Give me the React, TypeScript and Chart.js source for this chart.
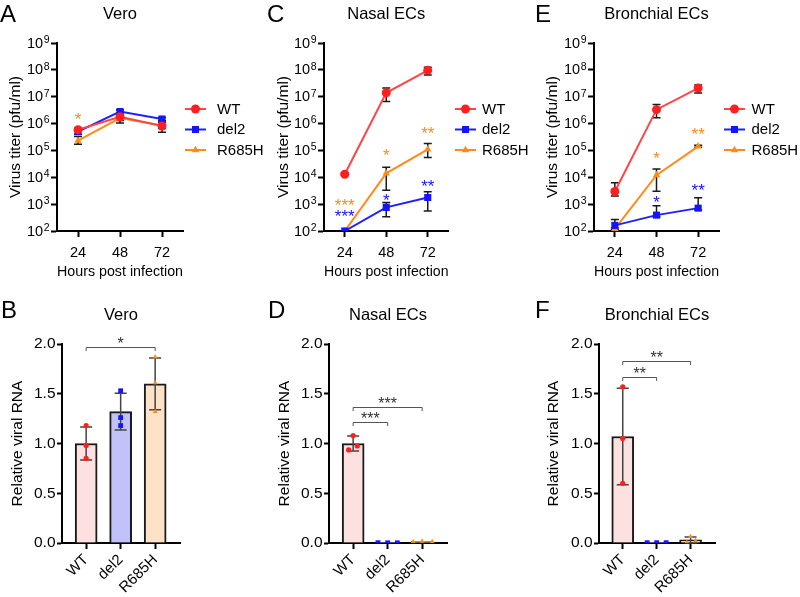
import React, { useEffect, useRef } from 'react';
import { Chart, registerables } from 'chart.js';

Chart.register(...registerables);

const FONT = "'Liberation Sans', Arial, Helvetica, sans-serif";
Chart.defaults.font.family = FONT;
Chart.defaults.color = '#000';

// ---------------- data ----------------
const hours = ['24', '48', '72'];
const strains = ['WT', 'del2', 'R685H'];
const titerTicks = [1e2, 1e3, 1e4, 1e5, 1e6, 1e7, 1e8, 1e9];
const rnaTicks = [0, 0.5, 1.0, 1.5, 2.0];

// A: Vero titers (pfu/ml)
const veroWT = [5.9e5, 1.8e6, 8.1e5];
const veroWTLo = [5.2e5, 1.3e6, 4.8e5];
const veroWTHi = [6.6e5, 2.3e6, 1.26e6];
const veroDel2 = [5.0e5, 2.8e6, 1.48e6];
const veroDel2Lo = [4.0e5, 2.4e6, 1.3e6];
const veroDel2Hi = [6.0e5, 3.2e6, 1.7e6];
const veroR685H = [2.3e5, 1.6e6, 8.5e5];
const veroR685HLo = [1.7e5, 1.05e6, 6.5e5];
const veroR685HHi = [3.3e5, 2.3e6, 1.1e6];
const veroStars = [[0, 1.86e6, '*', 'R685H']];

// C: Nasal ECs titers
const nasalWT = [1.3e4, 1.4e7, 9.6e7];
const nasalWTLo = [1.2e4, 6.6e6, 6.5e7];
const nasalWTHi = [1.4e4, 2.1e7, 1.24e8];
const nasalDel2 = [100, 760, 1780];
const nasalDel2Lo = [100, 340, 550];
const nasalDel2Hi = [100, 1160, 2900];
const nasalR685H = [100, 1.4e4, 1.1e5];
const nasalR685HLo = [100, 3.3e3, 5.4e4];
const nasalR685HHi = [100, 2.35e4, 1.83e5];
const nasalStars = [
  [0, 1.12e3, '***', 'R685H'],
  [0, 427, '***', 'del2'],
  [1, 8.4e4, '*', 'R685H'],
  [1, 1.78e3, '*', 'del2'],
  [2, 5.6e5, '**', 'R685H'],
  [2, 5.6e3, '**', 'del2'],
];

// E: Bronchial ECs titers
const bronWT = [2.95e3, 3.3e6, 2.1e7];
const bronWTLo = [2.0e3, 1.66e6, 1.38e7];
const bronWTHi = [6.3e3, 5.1e6, 2.74e7];
const bronDel2 = [162, 390, 710];
const bronDel2Lo = [110, 330, 600];
const bronDel2Hi = [270, 870, 1720];
const bronR685H = [120, 1.2e4, 1.42e5];
const bronR685HLo = [110, 3.0e3, 1.3e5];
const bronR685HHi = [130, 2.05e4, 1.55e5];
const bronStars = [
  [1, 6.3e4, '*', 'R685H'],
  [1, 1.45e3, '*', 'del2'],
  [2, 4.9e5, '**', 'R685H'],
  [2, 4.3e3, '**', 'del2'],
];

// B: Vero relative viral RNA
const veroRnaMean = [1.0, 1.32, 1.6];
const veroRnaSD = [0.165, 0.185, 0.26];
const veroRnaWT = [1.18, 0.98, 0.85];
const veroRnaDel2 = [1.53, 1.26, 1.18];
const veroRnaR685H = [1.87, 1.61, 1.32];
const veroJitter = [[0, 0, 0], [0, 0, 0], [0, 0, 0]];
const veroBrackets = [[0, 2, 1.97, '*']];

// D: Nasal ECs relative viral RNA
const nasalRnaMean = [1.0, 0.002, 0.015];
const nasalRnaSD = [0.075, 0.001, 0.004];
const nasalRnaWT = [1.08, 0.935, 0.975];
const nasalRnaDel2 = [0.003, 0.002, 0.002];
const nasalRnaR685H = [0.012, 0.018, 0.014];
const nasalJitter = [[0, -0.13, 0.12], [-0.28, 0, 0.28], [-0.26, 0, 0.29]];
const nasalBrackets = [[0, 1, 1.22, '***'], [0, 2, 1.37, '***']];

// F: Bronchial ECs relative viral RNA
const bronRnaMean = [1.07, 0.003, 0.031];
const bronRnaSD = [0.485, 0.001, 0.03];
const bronRnaWT = [1.57, 1.05, 0.6];
const bronRnaDel2 = [0.003, 0.003, 0.003];
const bronRnaR685H = [0.007, 0.064, 0.023];
const bronJitter = [[0, 0, 0], [-0.28, 0, 0.28], [-0.11, 0, 0.15]];
const bronBrackets = [[0, 1, 1.665, '**'], [0, 2, 1.826, '**']];

// ---------------- styles ----------------
const COLORS: any = { WT: '#ff1f1f', del2: '#1414ff', R685H: '#ff8a14' };
const LINE_COLORS: any = { WT: '#ff4545', del2: '#1f1fff', R685H: '#ff8c1a' };
const BAR_FILL: any = { WT: '#fde0e0', del2: '#c2c2fb', R685H: '#fde2c7' };
const POINT_STYLE: any = { WT: 'circle', del2: 'rect', R685H: 'triangle' };
const TOP_R: any = { WT: 4.5, del2: 5, R685H: 4.3 };
const BOT_R: any = { WT: 2.6, del2: 3.4, R685H: 2.9 };

function drawMarker(ctx: CanvasRenderingContext2D, style: string, x: number, y: number, r: number, color: string) {
  ctx.fillStyle = color;
  ctx.beginPath();
  if (style === 'circle') {
    ctx.arc(x, y, r, 0, Math.PI * 2);
  } else if (style === 'rect') {
    const s = r * Math.SQRT1_2;
    ctx.rect(x - s, y - s, 2 * s, 2 * s);
  } else {
    ctx.moveTo(x, y - r);
    ctx.lineTo(x + r * Math.sin((2 * Math.PI) / 3), y - r * Math.cos((2 * Math.PI) / 3));
    ctx.lineTo(x + r * Math.sin((4 * Math.PI) / 3), y - r * Math.cos((4 * Math.PI) / 3));
    ctx.closePath();
  }
  ctx.fill();
}

const axisGrid = {
  display: true,
  drawOnChartArea: false,
  drawTicks: true,
  tickLength: 6,
  tickWidth: 2,
  tickColor: '#000',
  offset: false,
};
const axisBorder = { display: true, color: '#000', width: 2 };

function letterPlugin(letter: string, x: number, y: number) {
  return {
    id: 'panelLetter',
    afterDraw(chart: any) {
      const ctx = chart.ctx;
      ctx.save();
      ctx.font = `24px ${FONT}`;
      ctx.fillStyle = '#000';
      ctx.textAlign = 'left';
      ctx.textBaseline = 'alphabetic';
      ctx.fillText(letter, x, y);
      ctx.restore();
    },
  };
}

// ---------------- titer (line) panels ----------------
function titerConfig(spec: any) {
  const series = [
    { key: 'WT', values: spec.wt, lo: spec.wtLo, hi: spec.wtHi },
    { key: 'del2', values: spec.del2, lo: spec.del2Lo, hi: spec.del2Hi },
    { key: 'R685H', values: spec.r685h, lo: spec.r685hLo, hi: spec.r685hHi },
  ];

  const errorBars = {
    id: 'titerErrorBars',
    beforeDatasetsDraw(chart: any) {
      const { ctx } = chart;
      const xs = chart.scales.x;
      const ys = chart.scales.y;
      ctx.save();
      ctx.strokeStyle = '#1a1a1a';
      ctx.lineWidth = 1.5;
      series.forEach((s) => {
        s.values.forEach((_v: number, i: number) => {
          const x = xs.getPixelForValue(i);
          const y1 = ys.getPixelForValue(s.lo[i]);
          const y2 = ys.getPixelForValue(s.hi[i]);
          if (Math.abs(y1 - y2) < 1) return;
          ctx.beginPath();
          ctx.moveTo(x, y1);
          ctx.lineTo(x, y2);
          ctx.moveTo(x - 4, y1);
          ctx.lineTo(x + 4, y1);
          ctx.moveTo(x - 4, y2);
          ctx.lineTo(x + 4, y2);
          ctx.stroke();
        });
      });
      ctx.restore();
    },
  };

  const logLabels = {
    id: 'logTickLabels',
    afterDraw(chart: any) {
      const { ctx } = chart;
      const ys = chart.scales.y;
      ctx.save();
      ctx.fillStyle = '#000';
      ctx.textAlign = 'right';
      ctx.textBaseline = 'middle';
      titerTicks.forEach((v) => {
        const y = ys.getPixelForValue(v);
        const exp = String(Math.round(Math.log10(v)));
        const xr = ys.right - 6 - 1.5;
        ctx.font = `10.5px ${FONT}`;
        const ew = ctx.measureText(exp).width;
        ctx.fillText(exp, xr, y - 3);
        ctx.font = `14.5px ${FONT}`;
        ctx.fillText('10', xr - ew - 0.5, y + 0.5);
      });
      ctx.restore();
    },
  };

  const stars = {
    id: 'titerStars',
    afterDraw(chart: any) {
      const { ctx } = chart;
      const xs = chart.scales.x;
      const ys = chart.scales.y;
      ctx.save();
      ctx.font = `17px ${FONT}`;
      ctx.textAlign = 'center';
      ctx.textBaseline = 'middle';
      spec.stars.forEach((st: any) => {
        const [xi, yv, text, key] = st;
        ctx.fillStyle = COLORS[key];
        ctx.fillText(text, xs.getPixelForValue(xi), ys.getPixelForValue(yv) + 17 * 0.22);
      });
      ctx.restore();
    },
  };

  const legend = {
    id: 'sideLegend',
    afterDraw(chart: any) {
      const { ctx } = chart;
      ctx.save();
      series.forEach((s, i) => {
        const y = spec.legendY[i];
        const x0 = spec.legendX;
        ctx.strokeStyle = LINE_COLORS[s.key];
        ctx.lineWidth = 2;
        ctx.beginPath();
        ctx.moveTo(x0, y);
        ctx.lineTo(x0 + 21, y);
        ctx.stroke();
        drawMarker(ctx, POINT_STYLE[s.key], x0 + 10.5, y, TOP_R[s.key], COLORS[s.key]);
        ctx.fillStyle = '#000';
        ctx.font = `15px ${FONT}`;
        ctx.textAlign = 'left';
        ctx.textBaseline = 'middle';
        ctx.fillText(s.key, x0 + spec.legendTextGap, y + 0.5);
      });
      ctx.restore();
    },
  };

  return {
    type: 'line',
    data: {
      labels: hours,
      datasets: series.map((s) => ({
        label: s.key,
        data: s.values,
        borderColor: LINE_COLORS[s.key],
        backgroundColor: COLORS[s.key],
        pointBackgroundColor: COLORS[s.key],
        pointBorderColor: COLORS[s.key],
        pointStyle: POINT_STYLE[s.key],
        pointRadius: TOP_R[s.key],
        pointBorderWidth: 0,
        borderWidth: 2,
        tension: 0,
        fill: false,
      })),
    },
    options: {
      responsive: false,
      animation: false,
      devicePixelRatio: 1,
      events: [],
      layout: { padding: { left: 0, top: 0, right: spec.padRight, bottom: 0 } },
      plugins: {
        legend: { display: false },
        tooltip: { enabled: false },
        title: {
          display: true,
          text: spec.title,
          fullSize: false,
          color: '#000',
          font: { size: 16.5, weight: 'normal' },
          padding: { top: 4.4, bottom: 18.8 },
        },
      },
      scales: {
        x: {
          type: 'category',
          offset: true,
          grid: axisGrid,
          border: axisBorder,
          ticks: { font: { size: 14.5 }, color: '#000', padding: 7, maxRotation: 0, autoSkip: false },
          title: {
            display: true,
            text: 'Hours post infection',
            color: '#000',
            font: { size: 15.5 },
            padding: { top: 0, bottom: 16.5 },
          },
          afterFit: (s: any) => {
            s.height = 67;
          },
        },
        y: {
          type: 'logarithmic',
          min: 1e2,
          max: 1e9,
          afterBuildTicks: (s: any) => {
            s.ticks = titerTicks.map((v) => ({ value: v }));
          },
          grid: axisGrid,
          border: axisBorder,
          ticks: { display: false },
          title: {
            display: true,
            text: 'Virus titer (pfu/ml)',
            color: '#000',
            font: { size: 15.5 },
            padding: { top: spec.yTitlePad, bottom: 0 },
          },
          afterFit: (s: any) => {
            s.width = spec.yAxisWidth;
          },
        },
      },
    },
    plugins: [errorBars, logLabels, stars, legend, letterPlugin(spec.letter, spec.letterX, 22)],
  };
}

// ---------------- RNA (bar) panels ----------------
function rnaConfig(spec: any) {
  const groups = [spec.wtPts, spec.del2Pts, spec.r685hPts];

  const errorBars = {
    id: 'rnaErrorBars',
    afterDatasetDraw(chart: any, args: any) {
      if (args.index !== 0) return;
      const { ctx } = chart;
      const xs = chart.scales.x;
      const ys = chart.scales.y;
      ctx.save();
      ctx.strokeStyle = '#444';
      ctx.lineWidth = 1.5;
      spec.mean.forEach((m: number, i: number) => {
        const x = xs.getPixelForValue(i);
        const yTop = ys.getPixelForValue(m + spec.sd[i]);
        const yBot = ys.getPixelForValue(Math.max(0, m - spec.sd[i]));
        if (Math.abs(yTop - yBot) < 1.5) return;
        ctx.beginPath();
        ctx.moveTo(x, yTop);
        ctx.lineTo(x, yBot);
        ctx.moveTo(x - 6, yTop);
        ctx.lineTo(x + 6, yTop);
        ctx.moveTo(x - 6, yBot);
        ctx.lineTo(x + 6, yBot);
        ctx.stroke();
      });
      ctx.restore();
    },
  };

  const brackets = {
    id: 'sigBrackets',
    afterDraw(chart: any) {
      const { ctx } = chart;
      const xs = chart.scales.x;
      const ys = chart.scales.y;
      ctx.save();
      spec.brackets.forEach((b: any) => {
        const [a, c, yv, text] = b;
        const xa = xs.getPixelForValue(a);
        const xc = xs.getPixelForValue(c);
        const y = Math.round(ys.getPixelForValue(yv)) + 0.5;
        ctx.strokeStyle = '#555';
        ctx.lineWidth = 1;
        ctx.beginPath();
        ctx.moveTo(xa, y + 3.5);
        ctx.lineTo(xa, y);
        ctx.lineTo(xc, y);
        ctx.lineTo(xc, y + 3.5);
        ctx.stroke();
        ctx.fillStyle = '#333';
        ctx.font = `16px ${FONT}`;
        ctx.textAlign = 'center';
        ctx.textBaseline = 'middle';
        ctx.fillText(text, (xa + xc) / 2, y - 6 + 16 * 0.22);
      });
      ctx.restore();
    },
  };

  return {
    type: 'bar',
    data: {
      datasets: [
        {
          type: 'bar',
          label: 'mean',
          data: spec.mean.map((m: number, i: number) => ({ x: i, y: m })),
          backgroundColor: strains.map((k) => BAR_FILL[k]),
          borderColor: '#1a1a1a',
          borderWidth: 2,
          barThickness: 22,
          order: 2,
        },
        ...strains.map((k, g) => ({
          type: 'scatter',
          label: k,
          data: groups[g].map((v: number, i: number) => ({ x: g + spec.jitter[g][i], y: v })),
          pointStyle: POINT_STYLE[k],
          pointRadius: BOT_R[k],
          pointBorderWidth: 0,
          backgroundColor: COLORS[k],
          borderColor: COLORS[k],
          showLine: false,
          order: 1,
        })),
      ],
    },
    options: {
      responsive: false,
      animation: false,
      devicePixelRatio: 1,
      events: [],
      layout: { padding: { left: 0, top: 0, right: spec.padRight, bottom: 0 } },
      plugins: {
        legend: { display: false },
        tooltip: { enabled: false },
        title: {
          display: true,
          text: spec.title,
          fullSize: false,
          color: '#000',
          font: { size: 16.5, weight: 'normal' },
          padding: { top: 7.1, bottom: 19.1 },
        },
      },
      scales: {
        x: {
          type: 'linear',
          min: -0.7,
          max: 2.72,
          offset: false,
          afterBuildTicks: (s: any) => {
            s.ticks = strains.map((_k, i) => ({ value: i }));
          },
          grid: axisGrid,
          border: axisBorder,
          ticks: {
            font: { size: 15 },
            color: '#000',
            padding: 2,
            minRotation: 45,
            maxRotation: 45,
            autoSkip: false,
            callback: (v: number) => strains[Math.round(v)],
          },
          afterFit: (s: any) => {
            s.height = 54;
          },
        },
        y: {
          type: 'linear',
          min: 0,
          max: 2,
          afterBuildTicks: (s: any) => {
            s.ticks = rnaTicks.map((v) => ({ value: v }));
          },
          grid: { ...axisGrid, tickLength: 5 },
          border: axisBorder,
          ticks: { font: { size: 15.5 }, color: '#000', padding: 1.5, callback: (v: number) => v.toFixed(1) },
          title: {
            display: true,
            text: 'Relative viral RNA',
            color: '#000',
            font: { size: 15.5 },
            padding: { top: spec.yTitlePad, bottom: 0 },
          },
          afterFit: (s: any) => {
            s.width = spec.yAxisWidth;
          },
        },
      },
    },
    plugins: [errorBars, brackets, letterPlugin(spec.letter, spec.letterX, 19.7)],
  };
}

// ---------------- components ----------------
function ChartBox({ left, top, width, height, make }: any) {
  const ref = useRef<HTMLCanvasElement>(null);
  useEffect(() => {
    const chart = new Chart(ref.current as HTMLCanvasElement, make());
    return () => chart.destroy();
  }, []);
  return (
    <canvas
      ref={ref}
      width={width}
      height={height}
      style={{ position: 'absolute', left, top, width, height, display: 'block' }}
    />
  );
}

const legendRows = [109, 129.5, 150];

export default function App() {
  return (
    <div style={{ position: 'absolute', left: 0, top: 0, width: 800, height: 597, background: '#fff', overflow: 'hidden' }}>
      <ChartBox
        left={0}
        top={0}
        width={265}
        height={298}
        make={() =>
          titerConfig({
            letter: 'A', letterX: 0, title: 'Vero',
            wt: veroWT, wtLo: veroWTLo, wtHi: veroWTHi,
            del2: veroDel2, del2Lo: veroDel2Lo, del2Hi: veroDel2Hi,
            r685h: veroR685H, r685hLo: veroR685HLo, r685hHi: veroR685HHi,
            stars: veroStars, yAxisWidth: 57, padRight: 82, yTitlePad: 6.5,
            legendX: 185, legendTextGap: 32, legendY: legendRows,
          })
        }
      />
      <ChartBox
        left={265}
        top={0}
        width={265}
        height={298}
        make={() =>
          titerConfig({
            letter: 'C', letterX: 2, title: 'Nasal ECs',
            wt: nasalWT, wtLo: nasalWTLo, wtHi: nasalWTHi,
            del2: nasalDel2, del2Lo: nasalDel2Lo, del2Hi: nasalDel2Hi,
            r685h: nasalR685H, r685hLo: nasalR685HLo, r685hHi: nasalR685HHi,
            stars: nasalStars, yAxisWidth: 59, padRight: 81.5, yTitlePad: 9.5,
            legendX: 190, legendTextGap: 27, legendY: legendRows,
          })
        }
      />
      <ChartBox
        left={530}
        top={0}
        width={270}
        height={298}
        make={() =>
          titerConfig({
            letter: 'E', letterX: 5, title: 'Bronchial ECs',
            wt: bronWT, wtLo: bronWTLo, wtHi: bronWTHi,
            del2: bronDel2, del2Lo: bronDel2Lo, del2Hi: bronDel2Hi,
            r685h: bronR685H, r685hLo: bronR685HLo, r685hHi: bronR685HHi,
            stars: bronStars, yAxisWidth: 64, padRight: 81, yTitlePad: 13.5,
            legendX: 194, legendTextGap: 27.5, legendY: legendRows,
          })
        }
      />
      <ChartBox
        left={0}
        top={298}
        width={265}
        height={299}
        make={() =>
          rnaConfig({
            letter: 'B', letterX: 1, title: 'Vero',
            mean: veroRnaMean, sd: veroRnaSD,
            wtPts: veroRnaWT, del2Pts: veroRnaDel2, r685hPts: veroRnaR685H,
            jitter: veroJitter, brackets: veroBrackets,
            yAxisWidth: 62, padRight: 85, yTitlePad: 8.2,
          })
        }
      />
      <ChartBox
        left={265}
        top={298}
        width={265}
        height={299}
        make={() =>
          rnaConfig({
            letter: 'D', letterX: 3, title: 'Nasal ECs',
            mean: nasalRnaMean, sd: nasalRnaSD,
            wtPts: nasalRnaWT, del2Pts: nasalRnaDel2, r685hPts: nasalRnaR685H,
            jitter: nasalJitter, brackets: nasalBrackets,
            yAxisWidth: 64, padRight: 83, yTitlePad: 10.5,
          })
        }
      />
      <ChartBox
        left={530}
        top={298}
        width={270}
        height={299}
        make={() =>
          rnaConfig({
            letter: 'F', letterX: 5, title: 'Bronchial ECs',
            mean: bronRnaMean, sd: bronRnaSD,
            wtPts: bronRnaWT, del2Pts: bronRnaDel2, r685hPts: bronRnaR685H,
            jitter: bronJitter, brackets: bronBrackets,
            yAxisWidth: 69, padRight: 85, yTitlePad: 14.8,
          })
        }
      />
    </div>
  );
}
